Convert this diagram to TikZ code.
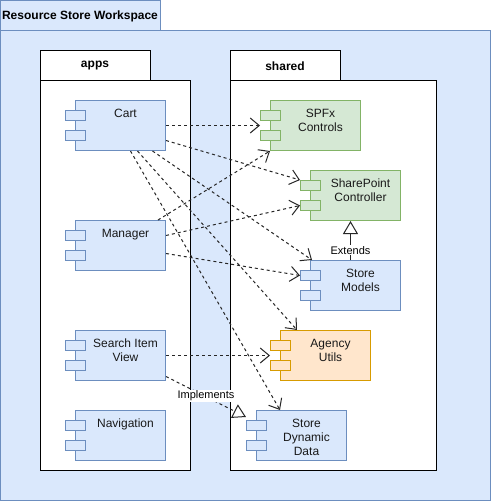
\documentclass[tikz,border=0pt]{standalone}
\usepackage{fontspec}
\setmainfont{Liberation Sans}
\usetikzlibrary{arrows.meta}
\definecolor{bfill}{HTML}{DAE8FC}
\definecolor{bline}{HTML}{6C8EBF}
\definecolor{gfill}{HTML}{D5E8D4}
\definecolor{gline}{HTML}{82B366}
\definecolor{ofill}{HTML}{FFE6CC}
\definecolor{oline}{HTML}{D79B00}
\begin{document}
\begin{tikzpicture}[x=1pt,y=-1pt,
  every node/.style={font=\fontsize{12}{14}\selectfont, inner sep=0pt},
  outer/.style={draw=bline, fill=bfill, line width=1pt},
  pkg/.style={draw=black, fill=white, line width=1pt},
  bodybox/.style={rectangle, minimum width=90pt, minimum height=50pt, line width=1pt},
  portbox/.style={rectangle, minimum width=20pt, minimum height=10pt, line width=1pt},
  blue/.style={draw=bline, fill=bfill},
  green/.style={draw=gline, fill=gfill},
  orange/.style={draw=oline, fill=ofill},
  lab/.style={align=center, anchor=north, font=\fontsize{12}{14}\selectfont, text=black!90},
  dep/.style={draw=black!85, line width=1pt, dash pattern=on 3pt off 3pt, -{Straight Barb[length=9pt,width=15pt,line width=1pt]}},
  gen/.style={draw=black!85, line width=1pt, -{Triangle[open,length=13pt,width=15pt,fill=white,line width=1pt]}},
  edgelab/.style={fill=white, font=\fontsize{11}{13}\selectfont, inner sep=1pt}
]
\useasboundingbox (0,0) rectangle (491,501);
% outer workspace
\draw[outer] (0.5,30.5) rectangle (490.5,500.5);
\draw[outer] (0.5,0.5) rectangle (160.5,30.5);
\node[font=\bfseries\fontsize{12}{14}\selectfont] (wslab) at (80,16) {Resource Store Workspace};
% packages
\draw[pkg] (40.5,50.5) rectangle (150.5,80.5);
\draw[pkg] (40.5,80.5) rectangle (190.5,470.5);
\node[font=\bfseries\fontsize{12}{14}\selectfont] (appslab) at (95,66) {apps};
\draw[pkg] (230.5,50.5) rectangle (340.5,80.5);
\draw[pkg] (230.5,80.5) rectangle (436.5,470.5);
\node[font=\bfseries\fontsize{12}{14}\selectfont] (sharedlab) at (285,66) {shared};

% components: body, two ports, label
% Cart
\node[bodybox, blue] (cart) at (120.5,125.5) {};
\node[portbox, blue] (cartp1) at (75.5,115.5) {};
\node[portbox, blue] (cartp2) at (75.5,135.5) {};
\node[lab] (cartl) at (125.5,109) {Cart};
% Manager
\node[bodybox, blue] (man) at (120.5,245.5) {};
\node[portbox, blue] (manp1) at (75.5,235.5) {};
\node[portbox, blue] (manp2) at (75.5,255.5) {};
\node[lab] (manl) at (125.5,229) {Manager};
% Search Item View
\node[bodybox, blue] (search) at (120.5,355.5) {};
\node[portbox, blue] (searchp1) at (75.5,345.5) {};
\node[portbox, blue] (searchp2) at (75.5,365.5) {};
\node[lab] (searchl) at (125.5,339) {Search Item\\View};
% Navigation
\node[bodybox, blue] (nav) at (120.5,435.5) {};
\node[portbox, blue] (navp1) at (75.5,425.5) {};
\node[portbox, blue] (navp2) at (75.5,445.5) {};
\node[lab] (navl) at (125.5,419) {Navigation};
% SPFx Controls
\node[bodybox, green] (spfx) at (315.5,125.5) {};
\node[portbox, green] (spfxp1) at (270.5,115.5) {};
\node[portbox, green] (spfxp2) at (270.5,135.5) {};
\node[lab] (spfxl) at (320.5,109) {SPFx\\Controls};
% SharePoint Controller
\node[bodybox, green] (spc) at (355.5,195.5) {};
\node[portbox, green] (spcp1) at (310.5,185.5) {};
\node[portbox, green] (spcp2) at (310.5,205.5) {};
\node[lab] (spcl) at (360.5,179) {SharePoint\\Controller};
% Store Models
\node[bodybox, blue] (models) at (355.5,285.5) {};
\node[portbox, blue] (modelsp1) at (310.5,275.5) {};
\node[portbox, blue] (modelsp2) at (310.5,295.5) {};
\node[lab] (modelsl) at (360.5,269) {Store\\Models};
% Agency Utils
\node[bodybox, orange] (agency) at (325.5,355.5) {};
\node[portbox, orange] (agencyp1) at (280.5,345.5) {};
\node[portbox, orange] (agencyp2) at (280.5,365.5) {};
\node[lab] (agencyl) at (330.5,339) {Agency\\Utils};
% Store Dynamic Data
\node[bodybox, blue] (sdd) at (301.5,435.5) {};
\node[portbox, blue] (sddp1) at (256.5,425.5) {};
\node[portbox, blue] (sddp2) at (256.5,445.5) {};
\node[lab] (sddl) at (306.5,419) {Store\\Dynamic\\Data};

% connectors
\draw[dep] (cart.east) -- ([xshift=-10pt]spfx.west);
\draw[dep] ([yshift=-15pt]cart.east) -- (spcp1.north west);
\draw[dep] ([xshift=32pt]cart.south) -- ([xshift=2pt]models.north west);
\draw[dep] ([xshift=17pt]cart.south) -- ([xshift=17pt]agency.north west);
\draw[dep] ([xshift=10pt]cart.south) -- ([xshift=24pt]sdd.north west);
\draw[dep] ([xshift=-8pt]man.north east) -- (spfx.south west);
\draw[dep] ([yshift=10pt]man.east) -- (spcp2.west);
\draw[dep] ([yshift=-8pt]man.east) -- (modelsp1.west);
\draw[dep] (search.east) -- ([xshift=-10pt]agency.west);
\draw[gen, dash pattern=on 3pt off 3pt] ([yshift=-21pt]search.east) -- node[edgelab, pos=0.5, yshift=1pt] (implab) {Implements} ([yshift=3pt]sddp1.north west);
\draw[gen] ([xshift=-5pt]models.north) -- node[edgelab, pos=0.25] (extlab) {Extends} ([xshift=-5pt]spc.south);
\end{tikzpicture}
\end{document}
